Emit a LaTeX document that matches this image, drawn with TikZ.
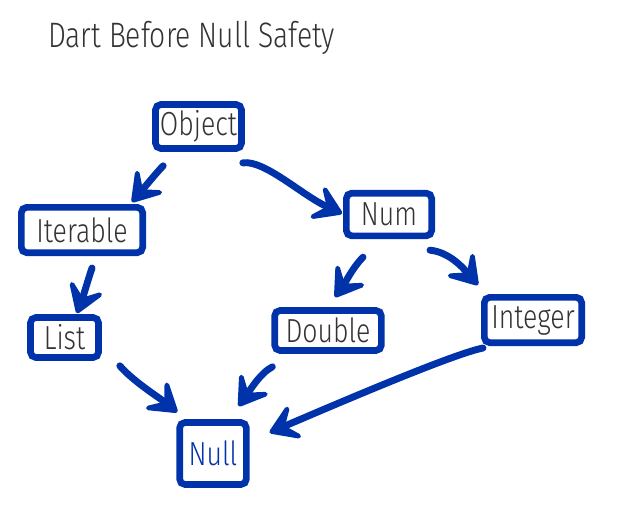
\documentclass[tikz,border=0pt]{standalone}
\usepackage{fontspec}
\setmainfont{Fira Sans}[UprightFont=* Light, FakeStretch=0.8]
\usetikzlibrary{arrows.meta}
\definecolor{sketch-blue}{HTML}{0033AA}
\definecolor{ink-grey}{HTML}{333333}

\begin{document}
\begin{tikzpicture}[x=0.75pt, y=-0.75pt,
      every node/.style={font=\fontsize{25}{29}\selectfont, text=ink-grey},
      typebox/.style={draw=sketch-blue, line width=5pt, fill=white,
        rounded corners=4pt, inner sep=0pt},
      sketcharrow/.style={draw=sketch-blue, line width=5.2pt, line cap=round,
        -{Stealth[length=28pt, width=36pt, inset=14pt, round]}}]
    \useasboundingbox (0,0) rectangle (621,522);

    % title -- baseline set by hand against the screenshot
    \node[anchor=base west, inner sep=0pt, font=\fontsize{26.5}{30}\selectfont] (title) at (48,47) {Dart Before Null Safety};

    % type boxes; minimum sizes are the outer box less one stroke width
    \node[typebox, minimum width=64.5pt, minimum height=33pt] (obj) at (198.5,126.5) {Object};
    \node[typebox, minimum width=91pt, minimum height=34pt] (iter) at (82,230) {Iterable};
    \node[typebox, minimum width=64pt, minimum height=32pt] (num) at (389,214.5) {Num};
    \node[typebox, minimum width=51pt, minimum height=30pt] (list) at (64.5,337.5) {List};
    \node[typebox, minimum width=80pt, minimum height=30pt] (dbl) at (328,330.5) {Double};
    \node[typebox, minimum width=73pt, minimum height=34pt] (int) at (533,320) {Integer};
    \node[typebox, minimum width=50pt, minimum height=46.5pt, text=sketch-blue] (null) at (213,453.5) {Null};

    % edges of the hierarchy
    \draw[sketcharrow] ([shift={(11,14)}]obj.south west)
      .. controls +(-6,6) and +(12,-14) .. ([shift={(-14,-2)}]iter.north east);
    \draw[sketcharrow] ([shift={(-2,11)}]obj.south east)
      .. controls +(22,-3) and +(-40,-18) .. ([shift={(-1,-1)}]num.west);
    \draw[sketcharrow] ([shift={(10,12)}]iter.south)
      .. controls +(-4,12) and +(6,-16) .. ([shift={(12.5,-1)}]list.north);
    \draw[sketcharrow] ([shift={(20,18)}]num.south west)
      .. controls +(-10,10) and +(10,-14) .. ([shift={(7,-10)}]dbl.north);
    \draw[sketcharrow] ([shift={(-5,11)}]num.south east)
      .. controls +(20,2) and +(-14,-16) .. ([shift={(-3,-9)}]int.north west);
    \draw[sketcharrow] ([shift={(18,5)}]list.south east)
      .. controls +(14,16) and +(-20,-16) .. ([shift={(1,-7)}]null.north west);
    \draw[sketcharrow] ([shift={(1,13)}]dbl.south west)
      .. controls +(-12,6) and +(10,-14) .. ([shift={(-11,-13)}]null.north east);
    \draw[sketcharrow] ([shift={(2,2)}]int.south west)
      .. controls +(-30,6) and +(70,-30) .. ([shift={(20,-21)}]null.east);
  \end{tikzpicture}
\end{document}
